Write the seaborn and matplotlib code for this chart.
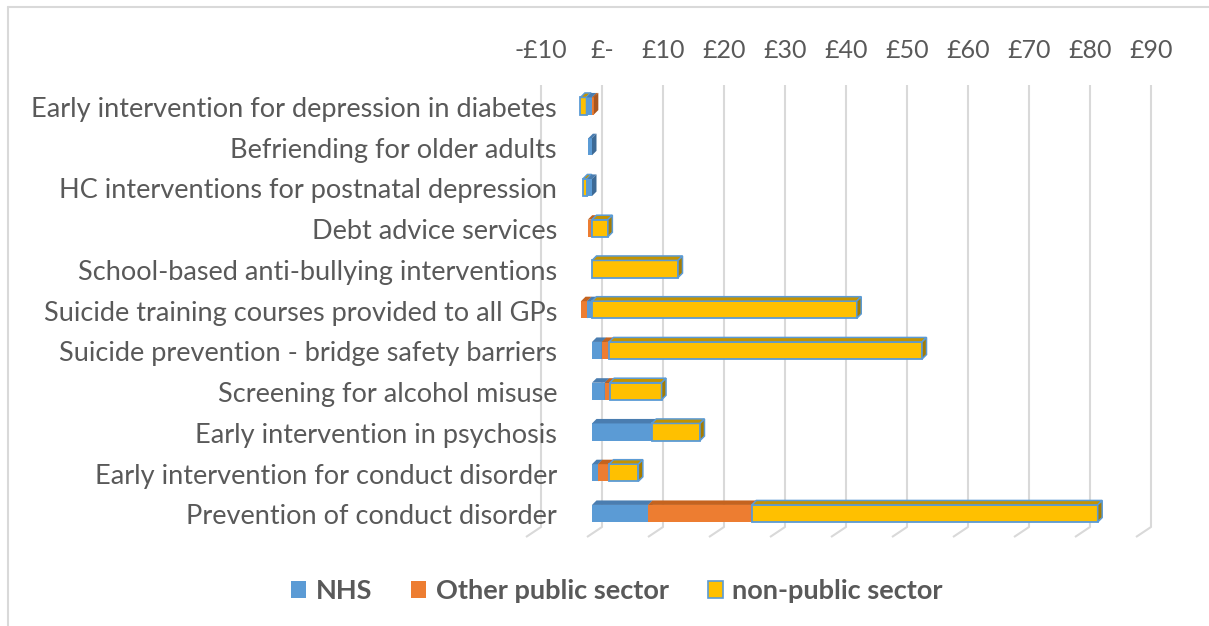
import matplotlib
matplotlib.use('Agg')
import matplotlib.pyplot as plt
from matplotlib.patches import Polygon, Patch
import numpy as np
import pandas as pd
import seaborn as sns

# ── DATA (£ per £ invested) ──────────────────────────────────────────────────
ITEMS = [
    "Early intervention for depression in diabetes",
    "Befriending for older adults",
    "HC interventions for postnatal depression",
    "Debt advice services",
    "School-based anti-bullying interventions",
    "Suicide training courses provided to all GPs",
    "Suicide prevention - bridge safety barriers",
    "Screening for alcohol misuse",
    "Early intervention in psychosis",
    "Early intervention for conduct disorder",
    "Prevention of conduct disorder",
]
NHS          = [-0.9, -0.6, -0.8, -0.1, 0.0, -0.8, 1.6, 2.1, 9.8, 1.0, 9.2]
OTHER_PUBLIC = [0.3, 0.0, 0.0, -0.6, 0.0, -1.0, 1.2, 0.8, 0.0, 1.8, 17.0]
NON_PUBLIC   = [-1.0, 0.0, -0.7, 2.6, 14.1, 43.4, 51.3, 8.5, 7.9, 4.8, 56.7]
SERIES_NAMES = ["NHS", "Other public sector", "non-public sector"]
TICKS = list(range(-10, 100, 10))

# ── STYLE ────────────────────────────────────────────────────────────────────
FRONT = ["#5B9BD5", "#ED7D31", "#FFC000"]
TOP   = ["#4A7DB0", "#C4631F", "#C49300"]
SIDE  = ["#3C6A96", "#A9561F", "#A67C00"]
EDGE  = [None, None, "#5B9BD5"]
GRID  = "#D9D9D9"
TEXT  = "#595959"

W, H = 1209, 626
ZERO_PX, PX_PER_X = 592, 6.1       # front plane: pixel of £0 and px per £
ROW0_PX, PX_PER_ROW = 106, 40.75   # pixel of first row centre, row spacing
L, R, T, B = 520, 1170, 85, 537    # axes box in pixels
BACK_DX, BACK_DY = 10, 10          # depth offset of the back wall (px)
BAR_D = 4.5                        # bar depth (px)
BAR_H = 0.42

sns.set_theme(style="white")
plt.rcParams['font.family'] = ['Lato', 'DejaVu Sans']

df = pd.DataFrame({"item": ITEMS, "nhs": NHS, "other": OTHER_PUBLIC,
                   "nonpub": NON_PUBLIC})
cols = ["nhs", "other", "nonpub"]


def xd(px):
    return (px - ZERO_PX) / PX_PER_X


def yd(px):
    return (px - ROW0_PX) / PX_PER_ROW


fig = plt.figure(figsize=(W / 100, H / 100), dpi=100)
ax = fig.add_axes([L / W, 1 - B / H, (R - L) / W, (B - T) / H])

# stacked lefts: positives stack right from 0, negatives stack left from 0
pos = np.zeros(len(df))
neg = np.zeros(len(df))
lefts = []
for c in cols:
    v = df[c].to_numpy()
    left = np.where(v >= 0, pos, neg)
    lefts.append(left)
    pos = pos + np.clip(v, 0, None)
    neg = neg + np.clip(v, None, 0)

for s, c in enumerate(cols):
    sns.barplot(data=df, x=c, y="item", orient="h", left=lefts[s],
                color=FRONT[s], width=BAR_H, errorbar=None, ax=ax,
                edgecolor=EDGE[s] if EDGE[s] else "none",
                linewidth=1.3 if EDGE[s] else 0, saturation=1)

ax.set_xlim(xd(L), xd(R))
ax.set_ylim(yd(B), yd(T))
ax.set_xlabel("")
ax.set_ylabel("")
ax.set_xticks([])
ax.set_yticks([])
for sp in ax.spines.values():
    sp.set_visible(False)
ax.patch.set_alpha(0)

# 3D faces: draw segments left to right so each covers its neighbour's side
ddx, ddy = BAR_D / PX_PER_X, BAR_D / PX_PER_ROW
for i in range(len(df)):
    segs = []
    for s, c in enumerate(cols):
        v = df[c].iloc[i]
        x0 = lefts[s][i] + min(v, 0)
        segs.append((x0, x0 + abs(v), s))
    segs.sort(key=lambda t: t[0])
    for k, (x0, x1, s) in enumerate(segs):
        bar = ax.containers[s][i]
        z = 3 + 0.1 * k
        bar.set_zorder(z)
        if x1 - x0 <= 0:
            bar.set_linewidth(0)
            continue
        yt, yb = i - BAR_H / 2, i + BAR_H / 2
        ec = EDGE[s] if EDGE[s] else "none"
        lw = 1.1 if EDGE[s] else 0
        top = Polygon([(x0, yt), (x1, yt), (x1 + ddx, yt - ddy), (x0 + ddx, yt - ddy)],
                      closed=True, facecolor=TOP[s], edgecolor=ec, lw=lw, zorder=z + 0.03)
        side = Polygon([(x1, yt), (x1 + ddx, yt - ddy), (x1 + ddx, yb - ddy), (x1, yb)],
                       closed=True, facecolor=SIDE[s], edgecolor=ec, lw=lw, zorder=z + 0.03)
        ax.add_patch(top)
        ax.add_patch(side)

# back-wall gridlines with slanted floor lines, tick labels on top
for v in TICKS:
    bx = v + xd(ZERO_PX + BACK_DX)
    fx = v + xd(ZERO_PX - 5)
    ax.plot([bx, bx, fx], [yd(T), yd(B - BACK_DY), yd(B)], color=GRID,
            lw=1.5, zorder=0, clip_on=False, solid_capstyle="butt")
    if v < 0:
        lab = f"-£{abs(v)}"
    elif v == 0:
        lab = "£-"
    else:
        lab = f"£{v}"
    ax.text(bx, yd(50), lab, ha="center", va="center", fontsize=18,
            color=TEXT, clip_on=False)

# category labels
for i, name in enumerate(ITEMS):
    ax.text(xd(557), i + 0.08, name, ha="right", va="center", fontsize=19.5,
            color=TEXT, zorder=6, clip_on=False)

# legend
handles = [Patch(facecolor=FRONT[s], edgecolor=EDGE[s] if EDGE[s] else FRONT[s],
                 lw=1.2 if EDGE[s] else 0) for s in range(3)]
fig.legend(handles, SERIES_NAMES, loc="center", ncol=3, frameon=False,
           bbox_to_anchor=(617 / W, 1 - 591 / H), handlelength=0.55,
           handleheight=0.55, handletextpad=0.35, columnspacing=1.45,
           prop={"weight": "bold", "size": 19.5}, labelcolor=TEXT)

# chart-area border (left and top edges visible in the crop)
fig.add_artist(plt.Line2D([8 / W, 8 / W], [0, 1 - 7 / H], color=GRID, lw=1.5))
fig.add_artist(plt.Line2D([8 / W, 1], [1 - 7 / H, 1 - 7 / H], color=GRID, lw=1.5))

fig.savefig("out.png", dpi=100)
